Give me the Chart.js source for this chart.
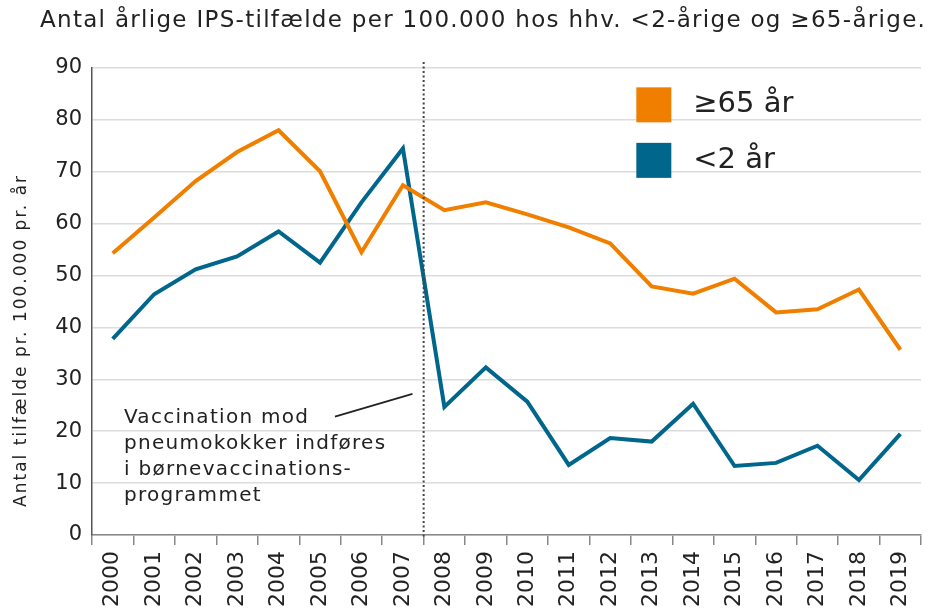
<!DOCTYPE html>
<html>
<head>
<meta charset="utf-8">
<script src="https://cdn.jsdelivr.net/npm/chart.js@4.4.1/dist/chart.umd.min.js"></script>
<style>
    html, body { margin: 0; padding: 0; background: #fff; }
    #wrap { width: 933px; height: 610px; }
</style>
</head>
<body>
<div id="wrap"><canvas id="ipsChart" width="933" height="610"></canvas></div>
<script>
    // data
    const years = ['2000', '2001', '2002', '2003', '2004', '2005', '2006', '2007', '2008', '2009',
        '2010', '2011', '2012', '2013', '2014', '2015', '2016', '2017', '2018', '2019'];
    const over65 = [54.3, 61.2, 68.2, 73.8, 78.0, 70.1, 54.5, 67.4, 62.6, 64.1,
        61.8, 59.3, 56.2, 47.9, 46.5, 49.4, 42.9, 43.5, 47.3, 35.7];
    const under2 = [37.8, 46.4, 51.2, 53.7, 58.5, 52.5, 64.1, 74.5, 24.7, 32.3,
        25.7, 13.5, 18.7, 18.0, 25.3, 13.3, 13.9, 17.2, 10.6, 19.5];
    const seriesNames = ['≥65 år', '<2 år'];
    const seriesColors = ['#f07f00', '#00668c'];
    const noteLines = ['Vaccination mod', 'pneumokokker indføres', 'i børnevaccinations-', 'programmet'];
    const chartTitle = 'Antal årlige IPS-tilfælde per 100.000 hos hhv. <2-årige og ≥65-årige.';
    const yTitle = 'Antal tilfælde pr. 100.000 pr. år';

    const FONT = "'DejaVu Sans', sans-serif";

    // dotted line, note text, titles and the legend boxes inside the plot
    const extras = {
        id: 'extras',
        afterDatasetsDraw(chart) {
            const c = chart.ctx;
            const x = chart.scales.x, y = chart.scales.y;
            const area = chart.chartArea;
            c.save();

            // vaccination introduced between 2007 and 2008
            const vx = x.getPixelForValue(7.5);
            c.fillStyle = '#444';
            for (let py = area.top - 6; py < area.bottom; py += 4.5) {
                c.fillRect(vx - 1, py, 2, 2);
            }

            // note text (the original font is wide, hence the letter spacing)
            c.fillStyle = '#222';
            c.font = '20px ' + FONT;
            c.letterSpacing = '1.3px';
            c.textBaseline = 'middle';
            const tx = x.getPixelForValue(0.27);
            noteLines.forEach(function (t, i) {
                c.fillText(t, tx, y.getPixelForValue(22.6 - i * 5.0));
            });

            // connector
            c.strokeStyle = '#222';
            c.lineWidth = 1.8;
            c.beginPath();
            c.moveTo(x.getPixelForValue(5.36), y.getPixelForValue(22.8));
            c.lineTo(x.getPixelForValue(7.23), y.getPixelForValue(27.2));
            c.stroke();

            // legend
            const lx = x.getPixelForValue(12.63);
            c.font = '29px ' + FONT;
            c.letterSpacing = '0px';
            seriesNames.forEach(function (name, i) {
                const cy = y.getPixelForValue(82.9 - i * 10.7);
                c.fillStyle = seriesColors[i];
                c.fillRect(lx, cy - 17.5, 35, 35);
                c.fillStyle = '#222';
                c.fillText(name, lx + 57, cy);
            });

            // chart title
            c.font = '23px ' + FONT;
            c.letterSpacing = '1.3px';
            c.textAlign = 'left';
            c.fillText(chartTitle, 40, 21);

            // y axis title, sits a bit below the middle like the original
            c.font = '17px ' + FONT;
            c.letterSpacing = '2px';
            c.textAlign = 'center';
            c.translate(22, y.getPixelForValue(37.5));
            c.rotate(-Math.PI / 2);
            c.fillText(yTitle, 0, 0);
            c.restore();
        }
    };

    const ctx = document.getElementById('ipsChart');
    const myChart = new Chart(ctx, {
        type: 'line',
        data: {
            labels: years,
            datasets: [{
                label: seriesNames[0],
                data: over65,
                borderColor: seriesColors[0],
                backgroundColor: seriesColors[0],
                borderWidth: 4,
                pointRadius: 0,
                tension: 0
            }, {
                label: seriesNames[1],
                data: under2,
                borderColor: seriesColors[1],
                backgroundColor: seriesColors[1],
                borderWidth: 4,
                pointRadius: 0,
                tension: 0
            }]
        },
        options: {
            responsive: false,
            animation: false,
            layout: { padding: { left: 0, right: 8, top: 0, bottom: 0 } },
            plugins: {
                legend: { display: false },
                tooltip: { enabled: false },
                // only keeps the room at the top, the text is drawn in extras
                title: {
                    display: true,
                    text: chartTitle,
                    color: 'rgba(0,0,0,0)',
                    font: { family: FONT, size: 20, weight: 'normal' },
                    padding: { top: 8, bottom: 36 }
                }
            },
            scales: {
                x: {
                    offset: true,
                    border: { color: '#888', width: 1.5 },
                    grid: {
                        offset: true,
                        drawOnChartArea: false,
                        drawTicks: true,
                        tickLength: 10,
                        color: '#888',
                        lineWidth: 1.5
                    },
                    ticks: {
                        color: '#222',
                        font: { family: FONT, size: 22 },
                        minRotation: 90,
                        maxRotation: 90,
                        padding: 6,
                        autoSkip: false
                    },
                    afterFit: function (scale) { scale.height = 75; }
                },
                y: {
                    min: 0,
                    max: 90,
                    border: { color: '#555', width: 1.5 },
                    grid: { color: '#dcdcdc', lineWidth: 1.5, drawTicks: false },
                    ticks: {
                        stepSize: 10,
                        color: '#222',
                        font: { family: FONT, size: 21 },
                        padding: 10
                    },
                    afterFit: function (scale) { scale.width = 92; }
                }
            }
        },
        plugins: [extras]
    });
</script>
</body>
</html>
